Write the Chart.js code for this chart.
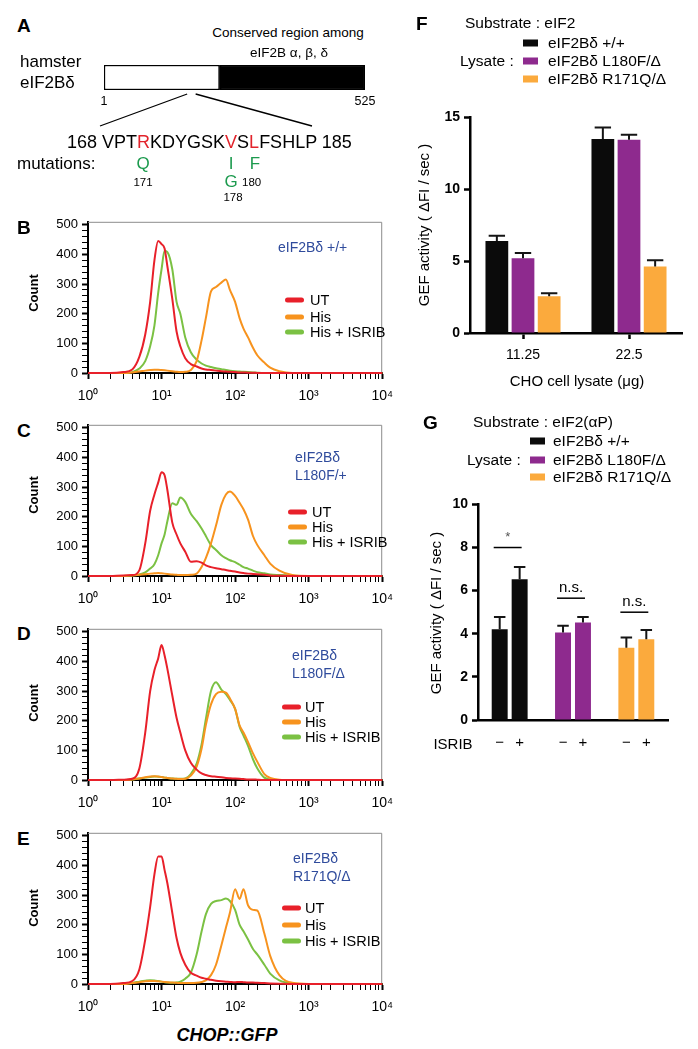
<!DOCTYPE html>
<html>
<head>
<meta charset="utf-8">
<title>eIF2Bδ mutants</title>
<script src="https://cdn.jsdelivr.net/npm/chart.js@4.4.1/dist/chart.umd.min.js"></script>
<style>
  body { margin: 0; background: #fff; }
  #page { position: relative; width: 698px; height: 1049px; overflow: hidden; font-family: "Liberation Sans", Arial, sans-serif; color: #000; }
  #page canvas { position: absolute; }
  .t { position: absolute; white-space: nowrap; line-height: 1; transform: translateY(-50%); }
  .c { transform: translate(-50%, -50%); }
  .v { transform: translate(-50%, -50%) rotate(-90deg); }
  .b { font-weight: bold; }
  .letter { font-weight: bold; font-size: 19px; }
  .red { color: #e2232b; }
  .grn { color: #1c9a4e; }
  .note { color: #2f4b9c; font-size: 14px; line-height: 18px; }
  .sw { position: absolute; height: 5px; width: 19px; border-radius: 3px; transform: translateY(-50%); }
  .sq { position: absolute; width: 15px; height: 7px; transform: translateY(-50%); }
</style>
</head>
<body>
<div id="page">
  <canvas id="chartA" width="380" height="90" style="left:0;top:50px"></canvas>
  <canvas id="chartB" width="362" height="200" style="left:40px;top:210px"></canvas>
  <canvas id="chartC" width="362" height="200" style="left:40px;top:413px"></canvas>
  <canvas id="chartD" width="362" height="200" style="left:40px;top:617px"></canvas>
  <canvas id="chartE" width="362" height="200" style="left:40px;top:821px"></canvas>
  <canvas id="chartF" width="290" height="270" style="left:400px;top:105px"></canvas>
  <canvas id="chartG" width="290" height="270" style="left:400px;top:492px"></canvas>

  <!-- A -->
  <div class="t letter" style="left:17px;top:25px">A</div>
  <div class="t" style="left:20px;top:61px;font-size:17px">hamster</div>
  <div class="t" style="left:20px;top:82px;font-size:17px">eIF2Bδ</div>
  <div class="t c" style="left:288px;top:33px;font-size:13.5px">Conserved region among</div>
  <div class="t c" style="left:289px;top:53px;font-size:13.5px">eIF2B α, β, δ</div>
  <div class="t" style="left:67px;top:142px;font-size:18px">168 VPT<span class="red">R</span>KDYGSK<span class="red">V</span>S<span class="red">L</span>FSHLP 185</div>
  <div class="t" style="left:17px;top:163px;font-size:17px">mutations:</div>
  <div class="t c grn" style="left:143px;top:163px;font-size:17px">Q</div>
  <div class="t c grn" style="left:231px;top:163px;font-size:17px">I</div>
  <div class="t c grn" style="left:255px;top:163px;font-size:17px">F</div>
  <div class="t c grn" style="left:231px;top:181px;font-size:17px">G</div>
  <div class="t c" style="left:143px;top:183px;font-size:11.5px">171</div>
  <div class="t" style="left:242px;top:183px;font-size:11.5px">180</div>
  <div class="t c" style="left:233px;top:198px;font-size:11.5px">178</div>

  <!-- B-E -->
  <div class="t letter" style="left:17px;top:227px">B</div>
  <div class="t letter" style="left:17px;top:430px">C</div>
  <div class="t letter" style="left:17px;top:633px">D</div>
  <div class="t letter" style="left:17px;top:838px">E</div>
  <div class="t v b" style="left:33px;top:293px;font-size:13px">Count</div>
  <div class="t v b" style="left:33px;top:495px;font-size:13px">Count</div>
  <div class="t v b" style="left:33px;top:703px;font-size:13px">Count</div>
  <div class="t v b" style="left:33px;top:908px;font-size:13px">Count</div>
  <div class="t note" style="left:278px;top:247px">eIF2Bδ +/+</div>
  <div class="t note" style="left:295px;top:466px">eIF2Bδ<br>L180F/+</div>
  <div class="t note" style="left:292px;top:664px">eIF2Bδ<br>L180F/Δ</div>
  <div class="t note" style="left:293px;top:867px">eIF2Bδ<br>R171Q/Δ</div>
  <div class="t b" style="left:227px;top:1035px;font-size:18px;font-style:italic;transform:translate(-50%,-50%)">CHOP::GFP</div>

  <!-- F -->
  <div class="t letter" style="left:416px;top:23px">F</div>
  <div class="t" style="left:465px;top:23px;font-size:15.5px">Substrate : eIF2</div>
  <div class="t" style="left:460px;top:61px;font-size:15.5px">Lysate :</div>
  <div class="t v" style="left:423px;top:225px;font-size:15px">GEF activity ( ΔFI / sec )</div>
  <div class="t c" style="left:577px;top:380px;font-size:15px">CHO cell lysate (μg)</div>

  <!-- G -->
  <div class="t letter" style="left:423px;top:422px">G</div>
  <div class="t" style="left:473px;top:422px;font-size:15.5px">Substrate : eIF2(αP)</div>
  <div class="t" style="left:467px;top:460px;font-size:15.5px">Lysate :</div>
  <div class="t v" style="left:435px;top:613px;font-size:15px">GEF activity ( ΔFI / sec )</div>
  <div class="t c" style="left:453px;top:743px;font-size:15px">ISRIB</div>
</div>

<script>
// ---------- data ----------
var proteinLength = 525;
var conservedStart = 233;
var zoomRegion = [168, 185];

var treatments = ['UT', 'His', 'His + ISRIB'];
var treatmentColors = ['#e8202a', '#f7931e', '#7bc143'];

// CHOP::GFP channel values (x) where the counts were read
var gfpBins = [1, 2, 3, 4, 5, 6, 7, 8, 9, 10, 11, 12, 14, 16, 18, 21, 25, 30, 35, 40, 47, 55, 65, 75, 85, 100, 115, 130, 150, 175, 200, 250, 300, 400, 600, 1000, 10000];

// B  eIF2Bδ +/+
var wtUT    = [0,0,3,12,55,130,240,380,445,435, 420,360,250,140,90,50,30,22,15,12, 10,8,6,5,4,3,2,2,1,1, 0,0,0,0,0,0,0];
var wtHis   = [0,0,0,2,5,8,10,11,11,10, 9,8,6,4,3,4,10,40,110,185, 275,290,305,315,280,240,185,150,120,85, 60,35,18,6,0,0,0];
var wtIsrib = [0,0,0,3,15,40,90,160,270,350, 412,408,350,240,200,120,70,45,32,25, 20,16,13,10,8,6,5,4,3,2, 1,0,0,0,0,0,0];
// C  eIF2Bδ L180F/+
var l180fHetUT    = [0,0,2,3,20,110,220,275,315,350, 340,290,180,140,110,82,48,50,45,36, 30,26,23,20,18,15,12,10,8,7, 6,4,2,1,0,0,0];
var l180fHetHis   = [0,0,0,2,4,6,8,9,10,9, 8,7,5,4,3,3,4,8,30,60, 110,170,240,275,285,270,247,225,190,135, 105,70,42,18,3,0,0];
var l180fHetIsrib = [0,0,0,2,5,12,25,40,70,110, 140,185,245,240,265,250,210,185,160,135, 104,88,70,60,53,47,38,30,25,18, 13,9,5,3,1,0,0];
// D  eIF2Bδ L180F/Δ
var l180fUT    = [0,0,1,4,40,160,300,370,410,455, 420,375,285,210,160,100,58,35,22,17, 13,11,9,7,6,5,4,3,2,2, 1,0,0,0,0,0,0];
var l180fHis   = [0,0,0,2,5,9,12,13,12,10, 8,7,5,4,3,4,15,45,105,185, 255,290,298,295,275,240,184,160,128,90, 62,20,7,1,0,0,0];
var l180fIsrib = [0,0,0,2,5,8,10,12,11,10, 8,7,5,4,4,5,20,55,120,205, 300,330,305,290,270,240,180,150,115,70, 40,8,2,0,0,0,0];
// E  eIF2Bδ R171Q/Δ
var r171qUT    = [0,0,3,10,50,150,260,370,430,430, 384,340,240,155,105,65,38,28,21,18, 14,11,9,8,7,6,7,6,5,5, 4,3,2,1,0,0,0];
var r171qHis   = [0,0,0,3,6,9,10,10,9,8, 7,6,5,4,3,3,3,4,7,12, 30,65,130,190,240,320,287,320,265,250, 248,170,95,30,4,0,0];
var r171qIsrib = [0,0,1,4,8,11,13,12,10,8, 6,5,4,5,8,18,38,100,177,235, 270,280,283,288,280,250,200,178,150,118, 100,65,35,12,2,0,0];

var genotypes = ['eIF2Bδ +/+', 'eIF2Bδ L180F/Δ', 'eIF2Bδ R171Q/Δ'];
var genotypeColors = ['#0b0b0b', '#8e2a8e', '#fbaa3d'];

// F  substrate eIF2
var lysateAmounts = ['11.25', '22.5'];
var gefWT = [6.4, 13.5];
var gefWTErr = [0.37, 0.8];
var gefL180F = [5.2, 13.45];
var gefL180FErr = [0.37, 0.35];
var gefR171Q = [2.55, 4.62];
var gefR171QErr = [0.22, 0.45];

// G  substrate eIF2(αP), per genotype
var gefNoIsrib = [4.21, 4.06, 3.35];
var gefNoIsribErr = [0.57, 0.31, 0.48];
var gefIsrib = [6.53, 4.52, 3.75];
var gefIsribErr = [0.57, 0.26, 0.42];
var sigLabels = ['*', 'n.s.', 'n.s.'];
var sigLevels = [8.0, 5.65, 5.0];

// ---------- helpers ----------
var FONT = '"Liberation Sans", Arial, sans-serif';
Chart.defaults.font.family = FONT;
Chart.defaults.color = '#000';

var page = document.getElementById('page');
function put(html, x, y, css) {
  var d = document.createElement('div');
  d.className = 't';
  d.innerHTML = html;
  d.style.left = x + 'px';
  d.style.top = y + 'px';
  if (css) d.style.cssText += css;
  page.appendChild(d);
}
function box(cls, x, y, color) {
  var d = document.createElement('div');
  d.className = cls;
  d.style.left = x + 'px';
  d.style.top = y + 'px';
  d.style.background = color;
  page.appendChild(d);
}

var sup = ['⁰', '¹', '²', '³', '⁴'];
function isDecade(v) {
  var p = Math.log10(v);
  return Math.abs(p - Math.round(p)) < 1e-9;
}

var frame = {
  id: 'frame',
  beforeDatasetsDraw: function (chart) {
    var a = chart.chartArea, ctx = chart.ctx;
    ctx.save();
    ctx.strokeStyle = '#8c8c8c';
    ctx.lineWidth = 1;
    ctx.beginPath();
    ctx.moveTo(a.left, a.top + 0.5);
    ctx.lineTo(a.right - 0.5, a.top + 0.5);
    ctx.lineTo(a.right - 0.5, a.bottom);
    ctx.stroke();
    ctx.restore();
  }
};

function flowChart(id, series) {
  new Chart(document.getElementById(id), {
    type: 'line',
    data: {
      datasets: series.map(function (counts, i) {
        return {
          label: treatments[i],
          data: gfpBins.map(function (b, k) { return { x: b, y: counts[k] }; }),
          borderColor: treatmentColors[i],
          borderWidth: 2,
          pointRadius: 0,
          cubicInterpolationMode: 'monotone',
          clip: false
        };
      })
    },
    options: {
      responsive: false,
      animation: false,
      layout: { padding: { top: 9, right: 4 } },
      plugins: { legend: { display: false }, tooltip: { enabled: false } },
      scales: {
        x: {
          type: 'logarithmic', min: 1, max: 10000,
          grid: { drawOnChartArea: false, tickLength: 6, tickColor: '#000',
            tickWidth: function (c) { return isDecade(c.tick.value) ? 2 : 1; } },
          border: { color: '#000', width: 2 },
          ticks: { autoSkip: false, maxRotation: 0, padding: 9, font: { size: 14 }, color: '#000',
            callback: function (v) { return isDecade(v) ? '10' + sup[Math.round(Math.log10(v))] : ''; } },
          afterFit: function (s) { s.height = 37; }
        },
        y: {
          min: 0, max: 510,
          grid: { drawOnChartArea: false, tickLength: 6, tickColor: '#000',
            tickWidth: function (c) { return c.tick.value % 100 === 0 ? 2 : 1; } },
          border: { color: '#000', width: 2 },
          ticks: { stepSize: 20, includeBounds: false, autoSkip: false, padding: 4, font: { size: 13 }, color: '#000',
            callback: function (v) { return v % 100 === 0 ? v : ''; } },
          afterBuildTicks: function (s) { s.ticks = s.ticks.filter(function (t) { return t.value <= 500; }); },
          afterFit: function (s) { s.width = 48; }
        }
      }
    },
    plugins: [frame]
  });
}

flowChart('chartB', [wtUT, wtHis, wtIsrib]);
flowChart('chartC', [l180fHetUT, l180fHetHis, l180fHetIsrib]);
flowChart('chartD', [l180fUT, l180fHis, l180fIsrib]);
flowChart('chartE', [r171qUT, r171qHis, r171qIsrib]);

// histogram legends
[[285, 310, [300, 317, 332]], [288, 312, [512, 527, 542]], [282, 305, [707, 722, 737]], [282, 305, [908, 925, 941]]].forEach(function (lg) {
  treatments.forEach(function (name, i) {
    box('sw', lg[0], lg[2][i], treatmentColors[i]);
    put(name, lg[1], lg[2][i], 'font-size:14.5px');
  });
});

// panel A protein diagram
var zoomLines = {
  id: 'zoomLines',
  afterDraw: function (chart) {
    var ctx = chart.ctx, x = chart.scales.x, a = chart.chartArea;
    ctx.save();
    ctx.strokeStyle = '#000';
    ctx.lineWidth = 1.3;
    ctx.beginPath();
    ctx.moveTo(x.getPixelForValue(zoomRegion[0]), a.bottom + 4);
    ctx.lineTo(100, 76);
    ctx.moveTo(x.getPixelForValue(zoomRegion[1]), a.bottom + 4);
    ctx.lineTo(312, 76);
    ctx.stroke();
    ctx.fillStyle = '#000';
    ctx.font = '12.5px ' + FONT;
    ctx.textAlign = 'center';
    ctx.textBaseline = 'middle';
    [1, proteinLength].forEach(function (v) { ctx.fillText(String(v), x.getPixelForValue(v), a.bottom + 12); });
    ctx.restore();
  }
};

new Chart(document.getElementById('chartA'), {
  type: 'bar',
  data: {
    labels: ['eIF2Bδ'],
    datasets: [
      { data: [[1, conservedStart]], backgroundColor: '#fff', borderColor: '#000', borderWidth: 1.5, borderSkipped: false },
      { data: [[conservedStart, proteinLength]], backgroundColor: '#000', borderColor: '#000', borderWidth: 1.5, borderSkipped: false }
    ]
  },
  options: {
    indexAxis: 'y',
    responsive: false,
    animation: false,
    layout: { padding: { left: 104, right: 15, top: 15, bottom: 50 } },
    datasets: { bar: { grouped: false, categoryPercentage: 1, barPercentage: 1 } },
    plugins: { legend: { display: false }, tooltip: { enabled: false } },
    scales: {
      x: { type: 'linear', min: 1, max: proteinLength, display: false },
      y: { display: false }
    }
  },
  plugins: [zoomLines]
});

// error bars for F and G
var errorBars = {
  id: 'errorBars',
  afterDatasetsDraw: function (chart) {
    var ctx = chart.ctx, y = chart.scales.y;
    ctx.save();
    ctx.strokeStyle = '#151515';
    ctx.lineWidth = 2;
    chart.data.datasets.forEach(function (ds, i) {
      chart.getDatasetMeta(i).data.forEach(function (bar, j) {
        var top = y.getPixelForValue(ds.data[j] + ds.errors[j]);
        var half = bar.width * 0.36;
        ctx.beginPath();
        ctx.moveTo(bar.x, bar.y);
        ctx.lineTo(bar.x, top);
        ctx.moveTo(bar.x - half, top);
        ctx.lineTo(bar.x + half, top);
        ctx.stroke();
      });
    });
    ctx.restore();
  }
};

function yAxis(max, step, width) {
  return {
    min: 0, max: max,
    ticks: { stepSize: step, padding: 4, color: '#000', font: { size: 14, weight: 'bold' } },
    grid: { drawOnChartArea: false, tickLength: 6, tickWidth: 2.5, tickColor: '#000' },
    border: { color: '#000', width: 2.5 },
    afterFit: function (s) { s.width = width; }
  };
}

new Chart(document.getElementById('chartF'), {
  type: 'bar',
  data: {
    labels: lysateAmounts,
    datasets: [
      { label: genotypes[0], data: gefWT, errors: gefWTErr, backgroundColor: genotypeColors[0] },
      { label: genotypes[1], data: gefL180F, errors: gefL180FErr, backgroundColor: genotypeColors[1] },
      { label: genotypes[2], data: gefR171Q, errors: gefR171QErr, backgroundColor: genotypeColors[2] }
    ]
  },
  options: {
    responsive: false,
    animation: false,
    layout: { padding: { top: 12, right: 8 } },
    datasets: { bar: { categoryPercentage: 0.74, barPercentage: 0.87 } },
    plugins: { legend: { display: false }, tooltip: { enabled: false } },
    scales: {
      x: {
        grid: { offset: false, drawOnChartArea: false, tickLength: 6, tickWidth: 2.5, tickColor: '#000' },
        border: { color: '#000', width: 2.5 },
        ticks: { padding: 8, color: '#000', font: { size: 14 } },
        afterFit: function (s) { s.height = 42; }
      },
      y: yAxis(15, 5, 70)
    }
  },
  plugins: [errorBars]
});

var isribMarks = {
  id: 'isribMarks',
  afterDatasetsDraw: function (chart) {
    var ctx = chart.ctx, y = chart.scales.y, a = chart.chartArea;
    var m0 = chart.getDatasetMeta(0).data, m1 = chart.getDatasetMeta(1).data;
    ctx.save();
    ctx.fillStyle = '#000';
    ctx.font = '15px ' + FONT;
    ctx.textAlign = 'center';
    ctx.textBaseline = 'middle';
    m0.forEach(function (bar) { ctx.fillText('−', bar.x, a.bottom + 23); });
    m1.forEach(function (bar) { ctx.fillText('+', bar.x, a.bottom + 23); });
    ctx.strokeStyle = '#000';
    ctx.lineWidth = 1.5;
    sigLevels.forEach(function (lv, i) {
      var py = y.getPixelForValue(lv);
      var x0 = m0[i].x - 6, x1 = m1[i].x + 2;
      ctx.beginPath();
      ctx.moveTo(x0, py);
      ctx.lineTo(x1, py);
      ctx.stroke();
      ctx.fillStyle = sigLabels[i] === '*' ? '#555' : '#000';
      ctx.font = (sigLabels[i] === '*' ? '13px ' : '15px ') + FONT;
      ctx.fillText(sigLabels[i], (x0 + x1) / 2, py - 10);
    });
    ctx.restore();
  }
};

new Chart(document.getElementById('chartG'), {
  type: 'bar',
  data: {
    labels: genotypes,
    datasets: [
      { label: 'ISRIB −', data: gefNoIsrib, errors: gefNoIsribErr, backgroundColor: genotypeColors },
      { label: 'ISRIB +', data: gefIsrib, errors: gefIsribErr, backgroundColor: genotypeColors }
    ]
  },
  options: {
    responsive: false,
    animation: false,
    layout: { padding: { top: 12, right: 22 } },
    datasets: { bar: { categoryPercentage: 0.63, barPercentage: 0.8 } },
    plugins: { legend: { display: false }, tooltip: { enabled: false } },
    scales: {
      x: {
        grid: { drawOnChartArea: false, drawTicks: false },
        border: { color: '#000', width: 2.5 },
        ticks: { display: false },
        afterFit: function (s) { s.height = 42; }
      },
      y: yAxis(10, 2, 78)
    }
  },
  plugins: [errorBars, isribMarks]
});

// legends of F and G
[[523, 548, [43, 61, 79]], [530, 553, [441, 460, 477]]].forEach(function (lg) {
  genotypes.forEach(function (name, i) {
    box('sq', lg[0], lg[2][i], genotypeColors[i]);
    put(name, lg[1], lg[2][i], 'font-size:15.5px');
  });
});
</script>
</body>
</html>
